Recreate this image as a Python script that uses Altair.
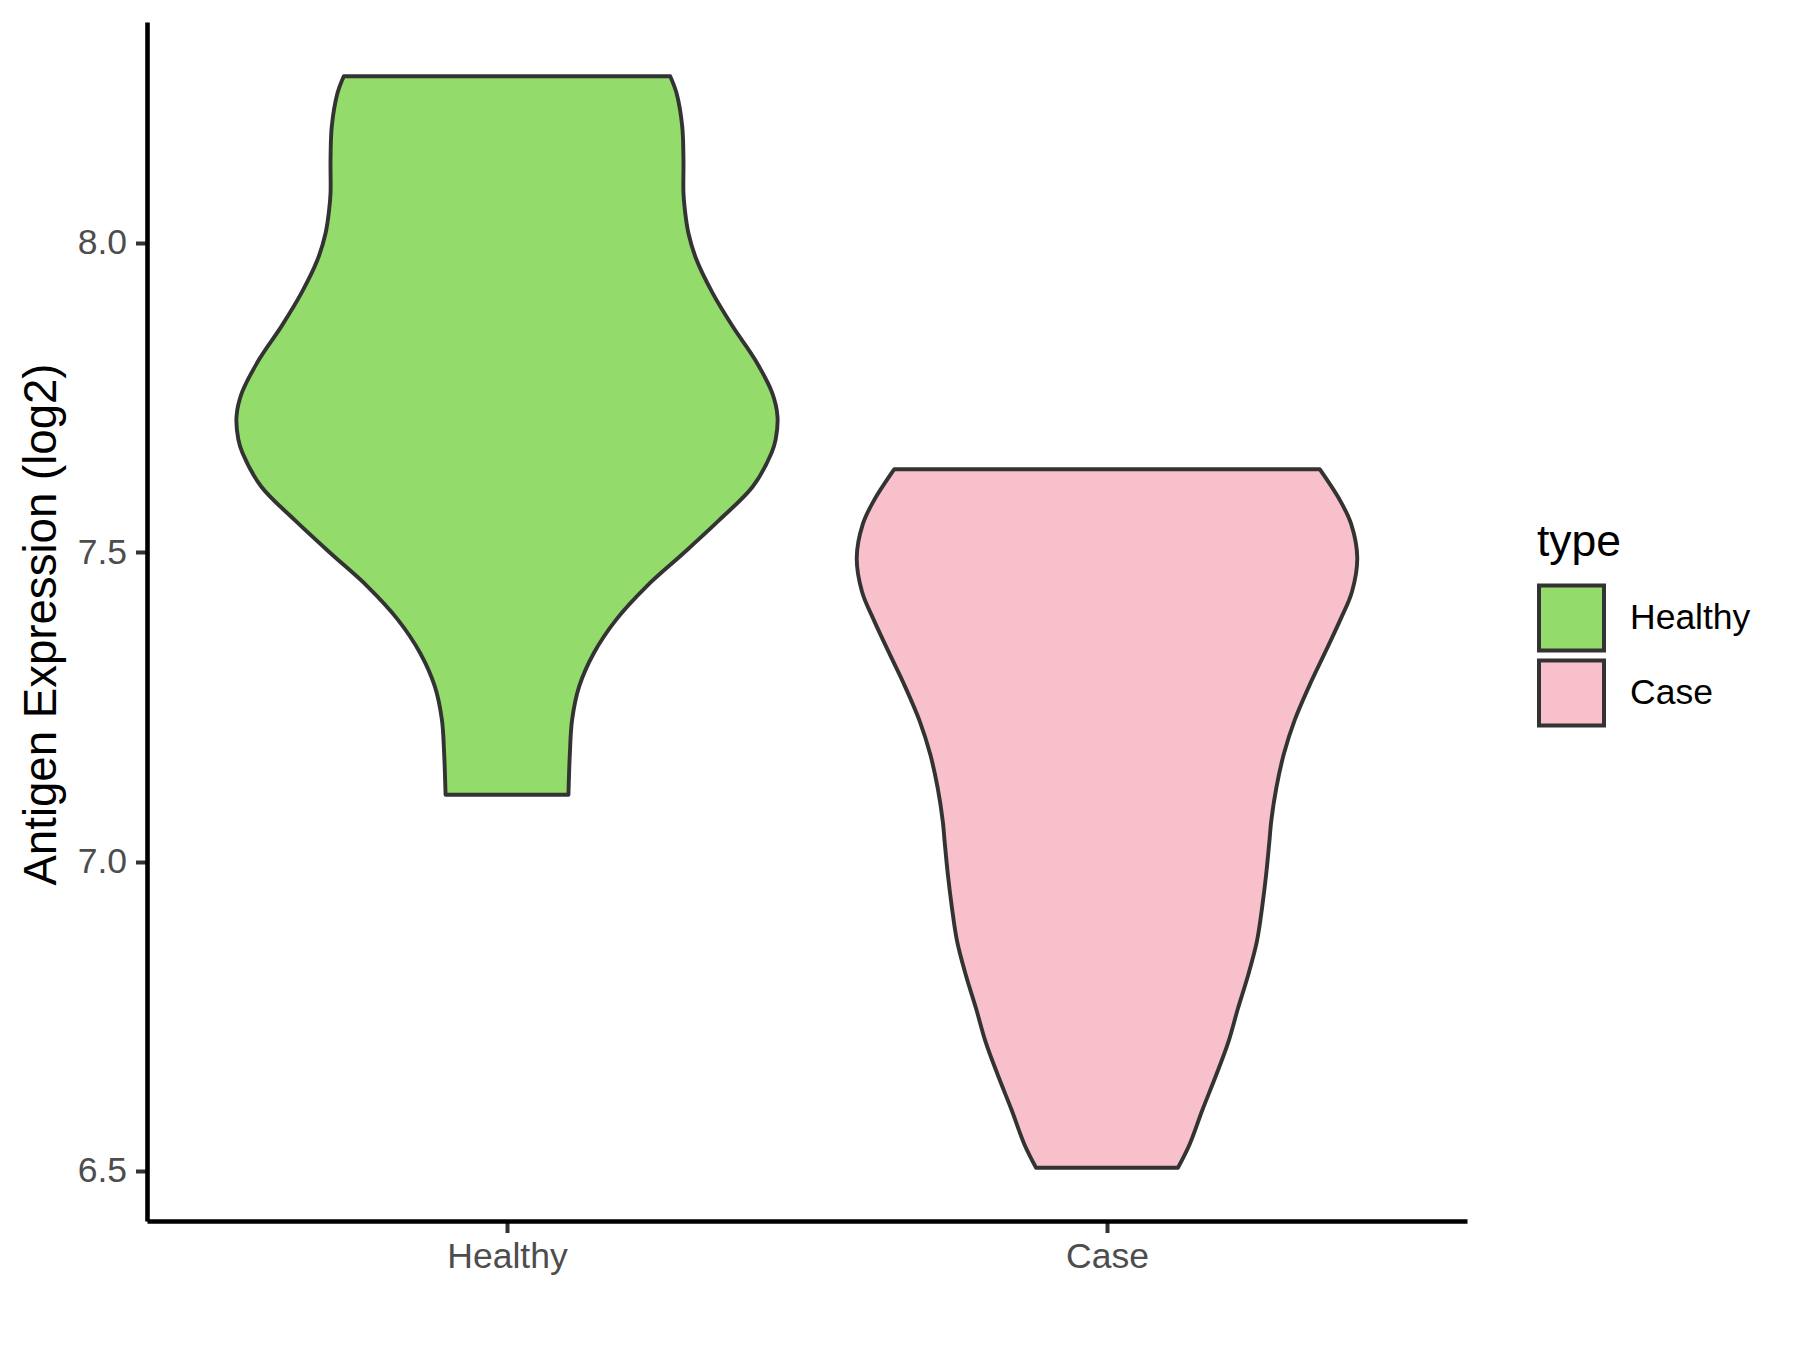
import altair as alt
import pandas as pd

# Categories and colours
categories = ["Healthy", "Case"]
fill_colors = ["#93DB6A", "#F7C0CB"]

# Violin outlines: expression value (log2) and half-width (category units)
healthy_value = [8.2694, 8.2425, 8.1886, 8.1346, 8.0808, 8.0539, 8.0160, 7.9730, 7.9191,
                 7.8651, 7.8113, 7.7575, 7.7196, 7.6819, 7.6604, 7.6066, 7.5526, 7.4987,
                 7.4449, 7.3911, 7.3371, 7.2830, 7.2292, 7.1754, 7.1080]
healthy_halfwidth = [0.2720, 0.2824, 0.2920, 0.2941, 0.2941, 0.2964, 0.3023, 0.3157, 0.3425,
                     0.3760, 0.4133, 0.4420, 0.4508, 0.4477, 0.4408, 0.4100, 0.3545, 0.2945,
                     0.2327, 0.1820, 0.1448, 0.1203, 0.1085, 0.1048, 0.1024]

case_value = [7.6342, 7.5837, 7.5455, 7.4909, 7.4362, 7.3926, 7.3380, 7.2832, 7.2285,
              7.1737, 7.1192, 7.0644, 7.0353, 6.9805, 6.9259, 6.8714, 6.8166, 6.7620,
              6.7073, 6.6525, 6.5980, 6.5432, 6.5050]
case_halfwidth = [0.3545, 0.3884, 0.4070, 0.4171, 0.4083, 0.3897, 0.3635, 0.3367, 0.3128,
                  0.2947, 0.2822, 0.2736, 0.2709, 0.2654, 0.2585, 0.2499, 0.2353, 0.2181,
                  0.2019, 0.1810, 0.1588, 0.1378, 0.1182]

y_ticks = [6.5, 7.0, 7.5, 8.0]

rows = []
for cat, vals, hws in [("Healthy", healthy_value, healthy_halfwidth),
                       ("Case", case_value, case_halfwidth)]:
    pos = categories.index(cat) + 1
    for v, w in zip(vals, hws):
        rows.append({"type": cat, "value": v, "lo": pos - w, "hi": pos + w})
df = pd.DataFrame(rows)

FONT = "Liberation Sans, Arial, sans-serif"
label_expr = " : ".join(
    [f"datum.value == {i + 1} ? '{c}'" for i, c in enumerate(categories)]
) + " : ''"

chart = alt.Chart(df).mark_area(
    orient="horizontal",
    interpolate="catmull-rom",
    stroke="#333333",
    strokeWidth=3.9,
    strokeJoin="round",
    opacity=1,
).encode(
    y=alt.Y(
        "value:Q",
        scale=alt.Scale(domain=[6.419, 8.357], nice=False, zero=False),
        axis=alt.Axis(
            values=y_ticks, format=".1f", title="Antigen Expression (log2)",
            grid=False, domainColor="black", domainWidth=4.6,
            tickColor="#333333", tickWidth=4, tickSize=11.5,
            labelColor="#4D4D4D", labelFontSize=35.5, labelFont=FONT, labelPadding=9,
            titleFont=FONT, titleFontSize=45.6, titleColor="black", titleFontWeight="normal",
            titleAngle=270, titleX=-92, titleY=602, titleAlign="center",
            titleBaseline="alphabetic", labelFlush=False,
        ),
    ),
    x=alt.X(
        "lo:Q",
        scale=alt.Scale(domain=[0.4, 2.6], nice=False, zero=False),
        axis=alt.Axis(
            values=[1, 2], labelExpr=label_expr, title=None, grid=False,
            domainColor="black", domainWidth=4.6,
            tickColor="#333333", tickWidth=4, tickSize=11.5,
            labelColor="#4D4D4D", labelFontSize=35.5, labelFont=FONT, labelPadding=7,
            labelFlush=False, labelOverlap=False,
        ),
    ),
    x2="hi:Q",
    color=alt.Color(
        "type:N",
        scale=alt.Scale(domain=categories, range=fill_colors),
        title="type",
        legend=alt.Legend(
            orient="none", legendX=1390, legendY=499, padding=0,
            titleFont=FONT, titleFontSize=44.5, titleColor="black", titleFontWeight="normal",
            titlePadding=18,
            labelFont=FONT, labelFontSize=35.5, labelColor="black", labelOffset=24,
            symbolType="square", symbolSize=4225, symbolStrokeColor="#333333",
            symbolStrokeWidth=4, symbolOpacity=1, rowPadding=-9.5,
        ),
    ),
).properties(
    width=1320,
    height=1199,
    autosize=alt.AutoSizeParams(type="none"),
    padding={"left": 139, "top": 14, "right": 325, "bottom": 121},
    background="white",
).configure_view(stroke=None)

chart.save("out.html", embed_options={"renderer": "svg", "actions": False})
